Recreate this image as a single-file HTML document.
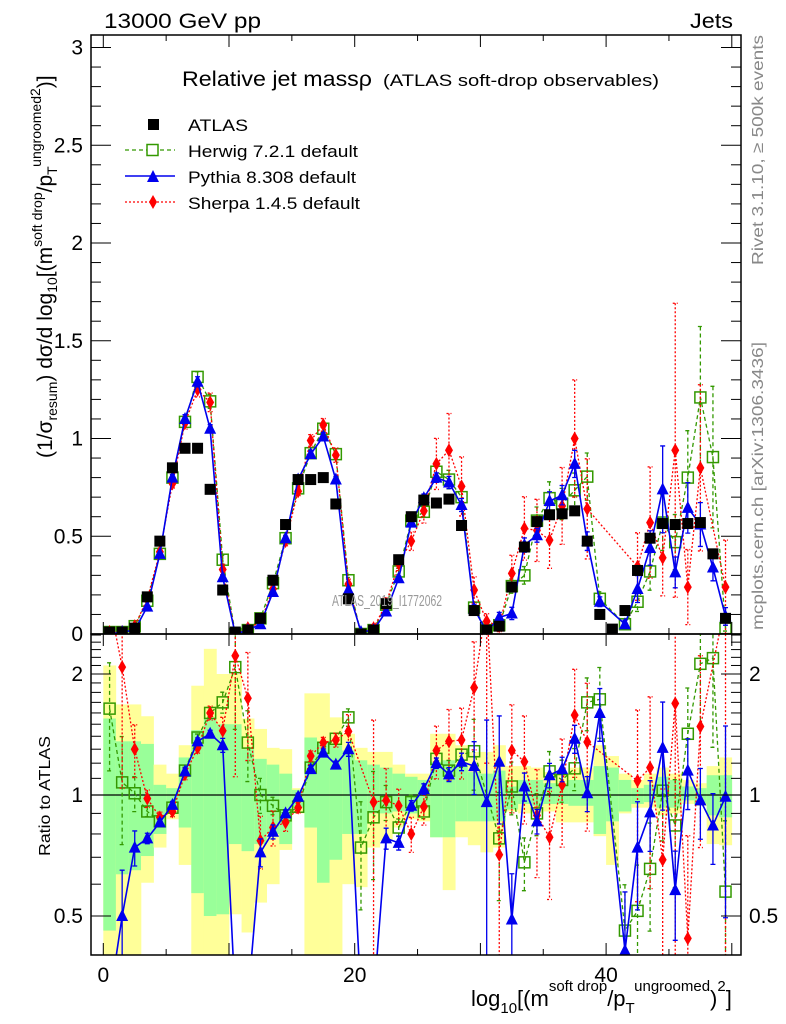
<!DOCTYPE html>
<html><head><meta charset="utf-8"><style>
html,body{margin:0;padding:0;background:#fff;width:786px;height:1024px;overflow:hidden;}
svg{display:block;font-family:"Liberation Sans",Arial,sans-serif;}
</style></head><body>
<svg id="chart" width="786" height="1024" viewBox="0 0 786 1024" xmlns="http://www.w3.org/2000/svg">
<defs>
<clipPath id="clipMain"><rect x="91" y="35" width="650" height="599"/></clipPath>
<clipPath id="clipRatio"><rect x="91" y="634" width="650" height="321"/></clipPath>
</defs>
<g id="bands" clip-path="url(#clipRatio)"></g>
<g id="series-main" clip-path="url(#clipMain)"></g>
<g id="series-ratio" clip-path="url(#clipRatio)"></g>
<g id="axes"></g>

<text x="104" y="28" font-size="21" textLength="157" lengthAdjust="spacingAndGlyphs">13000 GeV pp</text>
<text x="690" y="28" font-size="21" textLength="43" lengthAdjust="spacingAndGlyphs">Jets</text>
<text x="182" y="86" font-size="21" textLength="190" lengthAdjust="spacingAndGlyphs">Relative jet massρ</text>
<text x="383" y="86" font-size="17" textLength="276" lengthAdjust="spacingAndGlyphs">(ATLAS soft-drop observables)</text>

<g font-size="17">
 <g>
  <rect x="148" y="119" width="11" height="11" fill="#000"/>
  <text x="188" y="131" textLength="60" lengthAdjust="spacingAndGlyphs">ATLAS</text>
 </g>
 <g>
  <line x1="125" y1="150" x2="175" y2="150" stroke="#339900" stroke-width="1.3" stroke-dasharray="4,3"/>
  <rect x="147" y="144.5" width="11" height="11" fill="#fff" stroke="#339900" stroke-width="1.5"/>
  <text x="188" y="157" textLength="170" lengthAdjust="spacingAndGlyphs">Herwig 7.2.1 default</text>
 </g>
 <g>
  <line x1="125" y1="176" x2="175" y2="176" stroke="#0000ee" stroke-width="1.5"/>
  <path d="M147,182 L159,182 L153,170 Z" fill="#0000ee"/>
  <text x="188" y="183" textLength="168" lengthAdjust="spacingAndGlyphs">Pythia 8.308 default</text>
 </g>
 <g>
  <line x1="125" y1="202" x2="175" y2="202" stroke="#ff0000" stroke-width="1.3" stroke-dasharray="2,2"/>
  <path d="M153,195 L157,202 L153,209 L149,202 Z" fill="#ff0000"/>
  <text x="188" y="209" textLength="172" lengthAdjust="spacingAndGlyphs">Sherpa 1.4.5 default</text>
 </g>
</g>

<text x="332" y="606" font-size="16" fill="#999" textLength="110" lengthAdjust="spacingAndGlyphs">ATLAS_2019_I1772062</text>
<text transform="translate(763,265) rotate(-90)" font-size="16" fill="#888" textLength="230" lengthAdjust="spacingAndGlyphs">Rivet 3.1.10, ≥ 500k events</text>
<text transform="translate(763,630) rotate(-90)" font-size="16" fill="#888" textLength="288" lengthAdjust="spacingAndGlyphs">mcplots.cern.ch [arXiv:1306.3436]</text>

<text transform="translate(52,458) rotate(-90)" font-size="21">(1/σ<tspan font-size="14" dy="5">resum</tspan><tspan dy="-5">) dσ/d log</tspan><tspan font-size="14" dy="5">10</tspan><tspan dy="-5">[(m</tspan><tspan font-size="14" dy="-10">soft drop</tspan><tspan dy="10">/p</tspan><tspan font-size="14" dy="5">T</tspan><tspan font-size="14" dy="-16">ungroomed</tspan><tspan font-size="14" dy="-1">2</tspan><tspan dy="12">)]</tspan></text>
<text transform="translate(50,856) rotate(-90)" font-size="16" textLength="120" lengthAdjust="spacingAndGlyphs">Ratio to ATLAS</text>
<text x="471" y="1006" font-size="22">log<tspan font-size="15" dy="7">10</tspan><tspan dy="-7">[(m</tspan><tspan font-size="15" dy="-15">soft drop</tspan><tspan dy="15">/p</tspan><tspan font-size="15" dy="7">T</tspan><tspan font-size="15" dy="-22">ungroomed</tspan><tspan dy="15">)</tspan><tspan font-size="15" dy="-15">2</tspan><tspan dy="15">]</tspan></text>

<script>
// ---------- data ----------
const atlas = [0.01,0.01,0.03,0.19,0.475,0.85,0.95,0.95,0.74,0.225,0.01,0.02,0.08,0.275,0.56,0.79,0.79,0.80,0.665,0.18,0.0,0.02,0.155,0.38,0.60,0.685,0.67,0.69,0.555,0.12,0.02,0.04,0.24,0.445,0.575,0.61,0.615,0.63,0.475,0.10,0.025,0.12,0.325,0.49,0.565,0.56,0.565,0.57,0.41,0.08];
const herwig = [0.01,0.01,0.04,0.17,0.41,0.80,1.085,1.315,1.19,0.38,0.0,0.02,0.08,0.26,0.49,0.745,0.925,1.05,0.92,0.275,0.0,0.02,0.15,0.32,0.58,0.625,0.83,0.79,0.70,0.135,0.02,0.045,0.245,0.30,0.58,0.695,0.665,0.735,0.805,0.18,null,0.05,0.165,0.32,0.57,0.47,0.80,1.21,0.905,0.03];
const pythia = [0.0,0.01,0.02,0.14,0.41,0.80,1.10,1.29,1.05,0.29,0.0,0.02,0.05,0.215,0.49,0.79,0.92,1.01,0.79,0.225,0.01,0.02,0.115,0.285,0.57,0.695,0.80,0.775,0.66,0.13,0.01,0.085,0.105,0.455,0.505,0.68,0.71,0.87,0.475,0.165,null,0.05,0.23,0.44,0.74,0.315,0.645,0.56,0.34,0.09];
const sherpa = [0.01,0.01,0.04,0.18,0.42,0.77,1.08,1.25,1.185,0.33,0.0,0.03,0.06,0.23,0.475,0.73,0.99,1.07,0.915,0.255,0.0,0.03,0.155,0.36,0.475,0.63,0.87,0.94,0.755,0.225,0.065,0.04,0.31,0.54,0.53,0.48,0.655,1.00,0.64,null,null,null,0.345,0.57,0.39,0.94,0.24,0.85,null,0.24];

const herwigRatio = [1.64,1.075,1.01,0.91,0.86,0.93,1.15,1.39,1.60,1.70,2.08,1.35,1.0,0.94,0.89,0.935,1.17,1.31,1.38,1.56,0.74,0.88,0.96,0.83,0.96,0.91,1.23,1.15,1.26,1.285,null,0.78,1.05,0.68,0.90,1.145,1.09,1.165,1.70,1.73,null,0.46,0.515,0.655,1.025,0.84,1.42,2.12,2.19,0.575];
const pythiaRatio = [0.3,0.50,0.74,0.78,0.855,0.945,1.145,1.36,1.42,1.33,0.3,0.3,0.72,0.81,0.90,0.99,1.16,1.275,1.19,1.30,0.3,0.3,0.78,0.76,0.94,1.035,1.20,1.125,1.21,1.18,0.96,1.21,0.49,1.05,0.86,1.12,1.16,1.38,1.01,1.60,null,0.41,0.74,0.905,1.31,0.58,1.15,0.97,0.84,0.99];
const sherpaRatio = [3.0,2.08,1.30,0.98,0.88,0.91,1.125,1.31,1.60,1.445,2.22,1.74,0.77,0.83,0.855,0.93,1.25,1.35,1.37,1.44,null,0.96,0.97,0.94,0.80,0.935,1.29,1.36,1.37,1.85,3.0,0.71,1.29,1.21,0.89,0.785,1.06,1.58,1.355,null,null,null,1.085,1.17,0.69,1.69,0.44,1.48,null,3.0];

const herwigErr = [0.3,0.3,0.1,0.03,0.02,0.02,0.02,0.02,0.03,0.06,0.3,0.2,0.1,0.05,0.03,0.02,0.02,0.02,0.03,0.05,0.3,0.3,0.1,0.05,0.04,0.04,0.05,0.06,0.07,0.2,0.3,0.3,0.15,0.15,0.12,0.12,0.12,0.12,0.15,0.2,0,0.3,0.3,0.3,0.25,0.3,0.3,0.3,0.4,0.5];
const pythiaErr = [0.2,0.3,0.1,0.03,0.02,0.02,0.02,0.02,0.02,0.04,0.2,0.2,0.08,0.04,0.02,0.02,0.02,0.02,0.02,0.04,0.2,0.2,0.06,0.04,0.03,0.03,0.03,0.04,0.05,0.15,0.6,0.3,0.3,0.08,0.07,0.07,0.07,0.08,0.1,0.15,0,0.4,0.3,0.2,0.3,0.25,0.2,0.2,0.2,0.5];
const sherpaErr = [0.1,0.5,0.15,0.05,0.03,0.03,0.03,0.03,0.04,0.08,0.5,0.3,0.15,0.1,0.05,0.03,0.03,0.03,0.04,0.1,0.5,0.6,0.2,0.1,0.1,0.1,0.15,0.2,0.2,0.3,0.6,0.7,0.3,0.3,0.3,0.3,0.3,0.3,0.4,0,0,0,0.5,0.5,0.5,0.8,0.8,0.5,0,1.0];

const yellowHi = [2.10,1.68,1.68,1.57,1.19,1.13,1.33,1.87,2.31,2.0,2.0,1.55,1.46,1.31,1.30,1.04,1.79,1.79,1.56,1.42,1.31,1.28,1.28,1.19,1.13,1.13,1.42,1.42,1.33,1.28,1.28,1.33,1.18,1.18,1.17,1.14,1.13,1.17,1.17,1.33,1.25,1.13,1.09,1.13,1.17,1.13,1.09,1.07,1.18,1.24];
const greenHi = [1.55,1.36,1.36,1.34,1.06,1.04,1.24,1.45,1.56,1.50,1.50,1.30,1.23,1.19,1.13,1.03,1.39,1.36,1.33,1.29,1.22,1.19,1.17,1.13,1.11,1.09,1.21,1.22,1.19,1.14,1.13,1.15,1.05,1.09,1.09,1.07,1.07,1.09,1.09,1.18,1.17,1.09,1.04,1.06,1.11,1.09,1.05,1.04,1.12,1.12];
const greenLo = [0.46,0.635,0.65,0.705,0.80,0.93,0.83,0.57,0.50,0.505,0.755,0.725,0.755,0.80,0.755,0.93,0.83,0.605,0.69,0.80,0.80,0.90,0.90,0.91,0.90,0.93,0.785,0.785,0.86,0.86,0.86,0.86,0.92,0.95,0.94,0.95,0.95,0.94,0.94,0.80,0.86,0.91,0.95,0.96,0.93,0.93,0.97,0.95,0.89,0.88];
const yellowLo = [0.38,0.38,0.38,0.605,0.74,0.87,0.67,0.38,0.38,0.38,0.505,0.455,0.54,0.60,0.73,0.90,0.38,0.38,0.38,0.60,0.59,0.74,0.77,0.83,0.87,0.86,0.785,0.58,0.785,0.75,0.72,0.74,0.91,0.90,0.90,0.91,0.855,0.855,0.855,0.79,0.67,0.90,0.93,0.93,0.89,0.90,0.95,0.94,0.755,0.75];

const xTicks = [0,20,40];
const mainTicks = ["0","0.5","1","1.5","2","2.5","3"];
const ratioTicks = ["0.5","1","2"];

// ---------- scales ----------
const X0 = 103.3, XS = 12.57;
const xs = v => X0 + XS * v;
const clampY = y => Math.max(30, Math.min(1000, y));
const ym = v => clampY(634 - 195.5 * v);
const yr = v => clampY(795 - 402 * Math.log10(Math.max(v, 1e-3)));
const NS = "http://www.w3.org/2000/svg";
function mk(tag, attrs, parent) {
  const e = document.createElementNS(NS, tag);
  for (const k in attrs) e.setAttribute(k, attrs[k]);
  parent.appendChild(e);
  return e;
}
const gB = document.getElementById('bands');
const gM = document.getElementById('series-main');
const gR = document.getElementById('series-ratio');
const gA = document.getElementById('axes');

for (let i = 0; i < yellowHi.length; i++) {
  const x1 = xs(i), w = XS + 0.3;
  const yb = mk('rect', {x: x1, y: yr(yellowHi[i]), width: w, height: Math.min(yr(yellowLo[i]), 955) - yr(yellowHi[i]), fill: '#ffff99'}, gB);
  
  
  const gb = mk('rect', {x: x1, y: yr(greenHi[i]), width: w, height: Math.min(yr(greenLo[i]), 955) - yr(greenHi[i]), fill: '#99ff99'}, gB);
  
  
}
const refl = mk('line', {x1: 91, x2: 741, y1: yr(1), y2: yr(1), stroke: '#000', 'stroke-width': 1.3}, gB);



function marker(kind, cx, cy, parent, name) {
  let e;
  if (kind === 'sq') e = mk('rect', {x: cx - 5.5, y: cy - 5.5, width: 11, height: 11, fill: '#000'}, parent);
  else if (kind === 'osq') e = mk('rect', {x: cx - 5.5, y: cy - 5.5, width: 11, height: 11, fill: 'none', stroke: '#339900', 'stroke-width': 1.5}, parent);
  else if (kind === 'tri') e = mk('path', {d: `M${cx-6},${cy+5} L${cx+6},${cy+5} L${cx},${cy-7} Z`, fill: '#0000ee'}, parent);
  else e = mk('path', {d: `M${cx},${cy-7} L${cx+4},${cy} L${cx},${cy+7} L${cx-4},${cy} Z`, fill: '#ff0000'}, parent);
  
  
}

function drawSeries(vals, errs, yf, parent, color, dash, kind, name) {
  let d = '';
  vals.forEach((v, i) => {
    if (v === null) return;
    const px = xs(i + 0.5), py = yf(v);
    d += (d ? 'L' : 'M') + px.toFixed(1) + ',' + py.toFixed(1);
  });
  const ln = mk('path', {d: d, fill: 'none', stroke: color, 'stroke-width': kind === 'tri' ? 1.6 : 1.3, 'stroke-dasharray': dash}, parent);
  
  
  vals.forEach((v, i) => {
    if (v === null) return;
    const px = xs(i + 0.5);
    if (errs && errs[i] > 0) {
      const hi = yf(v * (1 + errs[i])), lo = yf(Math.max(v * (1 - errs[i]), 1e-3));
      const eb = mk('path', {d: `M${px},${hi}L${px},${lo}M${px-2.5},${hi}L${px+2.5},${hi}M${px-2.5},${lo}L${px+2.5},${lo}`, stroke: color, 'stroke-width': 1.3, fill: 'none', 'stroke-dasharray': dash}, parent);
      
      
    }
    marker(kind, px, yf(v), parent, name + '-point');
  });
}
drawSeries(herwig, herwigErr, ym, gM, '#339900', '4,3', 'osq', 'herwig');
drawSeries(sherpa, sherpaErr, ym, gM, '#ff0000', '2,2', 'dia', 'sherpa');
drawSeries(pythia, pythiaErr, ym, gM, '#0000ee', 'none', 'tri', 'pythia');
atlas.forEach((v, i) => { marker('sq', xs(i + 0.5), ym(v), gM, 'atlas-point'); });

drawSeries(herwigRatio, herwigErr, yr, gR, '#339900', '4,3', 'osq', 'herwig-ratio');
drawSeries(sherpaRatio, sherpaErr, yr, gR, '#ff0000', '2,2', 'dia', 'sherpa-ratio');
drawSeries(pythiaRatio, pythiaErr, yr, gR, '#0000ee', 'none', 'tri', 'pythia-ratio');

function line(x1, y1, x2, y2, w) { return mk('line', {x1, y1, x2, y2, stroke: '#000', 'stroke-width': w || 1}, gA); }
const f1 = mk('rect', {x: 91, y: 35, width: 650, height: 599, fill: 'none', stroke: '#000', 'stroke-width': 1.5}, gA);


const f2 = mk('rect', {x: 91, y: 634, width: 650, height: 321, fill: 'none', stroke: '#000', 'stroke-width': 1.5}, gA);



for (let v = 0; v <= 50; v += 5) {
  const px = xs(v);
  const L = (v % 10 === 0) ? 12 : 6;
  line(px, 634, px, 634 - L); line(px, 35, px, 35 + L);
  line(px, 634, px, 634 + L); line(px, 955, px, 955 - L);
}
xTicks.forEach(v => {
  const t = mk('text', {x: xs(v), y: 982, 'font-size': 21, 'text-anchor': 'middle'}, gA);
  t.textContent = String(v);
  
  
});
for (let k = 0; k <= 30; k++) {
  const py = ym(k / 10); const L = (k % 5 === 0) ? 20 : 10;
  line(91, py, 91 + L, py); line(741, py, 741 - L, py);
}
mainTicks.forEach(s => {
  const t = mk('text', {x: 83, y: ym(parseFloat(s)) + 7, 'font-size': 21, 'text-anchor': 'end'}, gA);
  t.textContent = s;
  
  
});
for (let k = 4; k <= 25; k++) {
  const v = k / 10; const py = yr(v);
  const major = (k === 5 || k === 10 || k === 20);
  const L = major ? 20 : 10;
  line(91, py, 91 + L, py); line(741, py, 741 - L, py);
}
ratioTicks.forEach(s => {
  const t = mk('text', {x: 83, y: yr(parseFloat(s)) + 7, 'font-size': 21, 'text-anchor': 'end'}, gA);
  t.textContent = s;
  
  
  const t2 = mk('text', {x: 749, y: yr(parseFloat(s)) + 7, 'font-size': 21}, gA);
  t2.textContent = s;
  
  
});
</script>
</svg>
</body></html>
